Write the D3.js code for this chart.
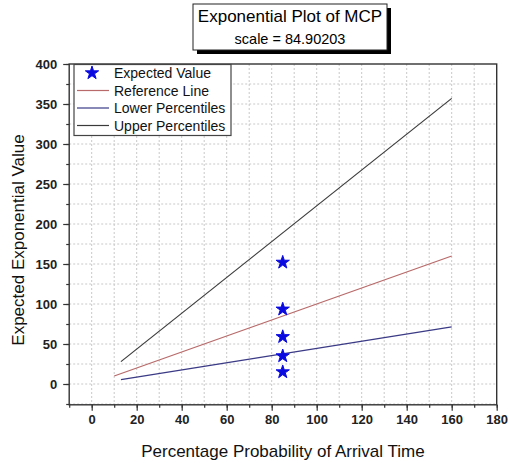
<!DOCTYPE html>
<html>
<head>
<meta charset="utf-8">
<script src="https://cdn.jsdelivr.net/npm/d3@7"></script>
<style>
  body { margin: 0; background: #fff; }
  svg { font-family: "Liberation Sans", Arial, sans-serif; }
  .grid line { stroke: #c8c8c8; stroke-dasharray: 2,2; }
</style>
</head>
<body>
<svg id="chart" width="510" height="463"></svg>
<script>
'use strict';

// data
var scaleValue = 84.90203;
var expectedX = [84.9, 84.9, 84.9, 84.9, 84.9];
var expectedY = [152, 93.4, 59, 35, 15];

var refX = [10, 160];
var refY = [10, 160];
var lowerX = [13, 160];
var lowerY = [5.5, 71.5];
var upperX = [13, 160];
var upperY = [28, 357];

var xTicks = [0, 20, 40, 60, 80, 100, 120, 140, 160, 180];
var yTicks = [0, 50, 100, 150, 200, 250, 300, 350, 400];
var legendLabels = ["Expected Value", "Reference Line", "Lower Percentiles", "Upper Percentiles"];

var svg = d3.select("#chart");

var pLeft = 69.2, pRight = 496.7, pTop = 64, pBottom = 404.8;

var x = d3.scaleLinear().domain([-10, 180]).range([pLeft, pRight]);
var y = d3.scaleLinear().domain([-26, 400]).range([pBottom, pTop]);

// dotted grid, every minor step
var gx = d3.range(0, 180, 10);
var gy = d3.range(-25, 400, 25);

var grid = svg.append("g").attr("class", "grid");
grid.selectAll(".gv").data(gx).enter().append("line")
  .attr("x1", function(d) { return x(d); })
  .attr("x2", function(d) { return x(d); })
  .attr("y1", pTop).attr("y2", pBottom);
grid.selectAll(".gh").data(gy).enter().append("line")
  .attr("y1", function(d) { return y(d); })
  .attr("y2", function(d) { return y(d); })
  .attr("x1", pLeft).attr("x2", pRight);

// axes
var xAxis = svg.append("g")
  .attr("transform", "translate(0," + pBottom + ")")
  .call(d3.axisBottom(x).tickValues(xTicks).tickSize(6).tickPadding(4));
var xMinor = svg.append("g")
  .attr("transform", "translate(0," + pBottom + ")")
  .call(d3.axisBottom(x).tickValues(d3.range(-10, 181, 10)).tickSize(3).tickFormat(""));

var yAxis = svg.append("g")
  .attr("transform", "translate(" + pLeft + ",0)")
  .call(d3.axisLeft(y).tickValues(yTicks).tickSize(6).tickPadding(6));
var yMinor = svg.append("g")
  .attr("transform", "translate(" + pLeft + ",0)")
  .call(d3.axisLeft(y).tickValues(d3.range(-25, 401, 25)).tickSize(3).tickFormat(""));

[xAxis, xMinor, yAxis, yMinor].forEach(function(a) {
  a.select(".domain").remove();
  a.selectAll("line").attr("stroke", "#333").attr("stroke-width", 1.2);
  a.selectAll("text")
    .attr("fill", "#222")
    .style("font-size", "13px")
    .style("font-weight", "bold")
    .style("font-family", "Liberation Sans, Arial, sans-serif");
});

// frame
svg.append("rect")
  .attr("x", pLeft).attr("y", pTop)
  .attr("width", pRight - pLeft).attr("height", pBottom - pTop)
  .attr("fill", "none").attr("stroke", "#333").attr("stroke-width", 1.4);

// lines
var line = d3.line()
  .x(function(d) { return x(d[0]); })
  .y(function(d) { return y(d[1]); });

var series = [
  { xs: refX, ys: refY, color: "#b86a6a" },
  { xs: lowerX, ys: lowerY, color: "#3a3a86" },
  { xs: upperX, ys: upperY, color: "#3a3a3a" }
];

series.forEach(function(s) {
  svg.append("path")
    .datum(d3.zip(s.xs, s.ys))
    .attr("d", line)
    .attr("fill", "none")
    .attr("stroke", s.color)
    .attr("stroke-width", 1.2);
});

var star = d3.symbol().type(d3.symbolStar).size(55);

svg.selectAll(".pt").data(d3.zip(expectedX, expectedY)).enter().append("path")
  .attr("d", star)
  .attr("transform", function(d) { return "translate(" + x(d[0]) + "," + y(d[1]) + ")"; })
  .attr("fill", "#0a0ae0")
  .attr("stroke", "#0a0ae0")
  .attr("stroke-width", 1)
  .attr("stroke-linejoin", "round");

// legend
var lg = svg.append("g");
lg.append("rect")
  .attr("x", 74).attr("y", 64.5)
  .attr("width", 157).attr("height", 71)
  .attr("fill", "#fff").attr("stroke", "#444").attr("stroke-width", 1.2);

var rowY = [73, 90.5, 108, 125.5];
var rowColor = [null, "#b86a6a", "#3a3a86", "#3a3a3a"];

legendLabels.forEach(function(t, i) {
  if (i == 0) {
    lg.append("path")
      .attr("d", star)
      .attr("transform", "translate(92," + rowY[i] + ")")
      .attr("fill", "#0a0ae0")
      .attr("stroke", "#0a0ae0")
      .attr("stroke-width", 1)
      .attr("stroke-linejoin", "round");
  } else {
    lg.append("line")
      .attr("x1", 77).attr("x2", 109)
      .attr("y1", rowY[i]).attr("y2", rowY[i])
      .attr("stroke", rowColor[i]).attr("stroke-width", 1.2);
  }
  lg.append("text")
    .attr("x", 114).attr("y", rowY[i] + 5)
    .style("font-size", "14px")
    .attr("fill", "#111")
    .text(t);
});

// title box with shadow
var tb = svg.append("g");
tb.append("rect")
  .attr("x", 197).attr("y", 8)
  .attr("width", 194).attr("height", 46)
  .attr("fill", "#000");
tb.append("rect")
  .attr("x", 193).attr("y", 4)
  .attr("width", 194).attr("height", 46)
  .attr("fill", "#fff").attr("stroke", "#222").attr("stroke-width", 1);
tb.append("text")
  .attr("x", 290).attr("y", 22)
  .attr("text-anchor", "middle")
  .style("font-size", "17px")
  .text("Exponential Plot of MCP");
tb.append("text")
  .attr("x", 290).attr("y", 44)
  .attr("text-anchor", "middle")
  .style("font-size", "14.5px")
  .text("scale = " + scaleValue);

// axis titles
svg.append("text")
  .attr("x", (pLeft + pRight) / 2).attr("y", 456.5)
  .attr("text-anchor", "middle")
  .style("font-size", "17px")
  .attr("fill", "#111")
  .text("Percentage Probability of Arrival Time");

svg.append("text")
  .attr("transform", "translate(24,240) rotate(-90)")
  .attr("text-anchor", "middle")
  .style("font-size", "17px")
  .attr("fill", "#111")
  .text("Expected Exponential Value");
</script>
</body>
</html>
